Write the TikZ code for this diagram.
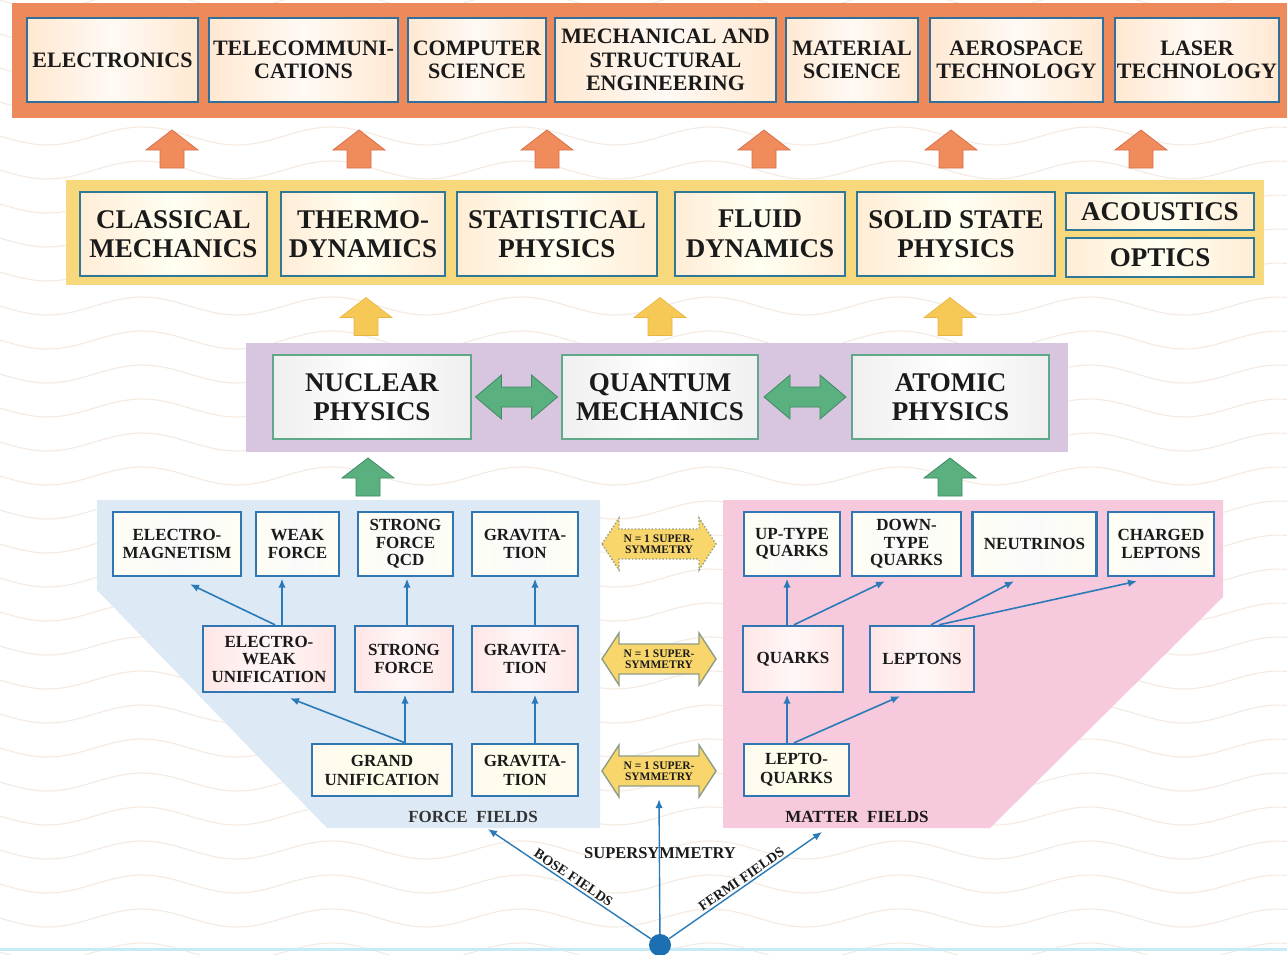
\documentclass[tikz,border=0pt]{standalone}
\usepackage{fontspec}
\setmainfont{Liberation Serif}
\usetikzlibrary{calc,arrows.meta}
\definecolor{orangebar}{HTML}{EC8A5C}
\definecolor{orangearrow}{HTML}{F08B5B}
\definecolor{orangeedge}{HTML}{D8704A}
\definecolor{yellowbar}{HTML}{F8D87C}
\definecolor{yellowarrow}{HTML}{F6C957}
\definecolor{yellowedge}{HTML}{E8B444}
\definecolor{purplebar}{HTML}{D8C5DF}
\definecolor{greenarrow}{HTML}{5BB07F}
\definecolor{greenedge}{HTML}{3D8A63}
\definecolor{blueregion}{HTML}{DDEAF6}
\definecolor{pinkregion}{HTML}{F7C9DD}
\definecolor{topedge}{HTML}{2F6F9C}
\definecolor{yedge}{HTML}{2F7896}
\definecolor{pedge}{HTML}{5FA88A}
\definecolor{sedge}{HTML}{2F76B2}
\definecolor{conncol}{HTML}{2A7AB8}
\definecolor{susyfill}{HTML}{F8D66B}
\definecolor{susyedge}{HTML}{8E9C86}
\definecolor{wavecol}{HTML}{F5EAE2}
\definecolor{bottomline}{HTML}{C7EBF6}
\definecolor{dotcol}{HTML}{1C6FB0}
\definecolor{txt}{HTML}{1A1A1A}
\begin{document}
\begin{tikzpicture}[x=1pt,y=-1pt,
  every node/.style={align=center, inner sep=1pt, text=txt},
  topbox/.style={draw=topedge, line width=2.6pt, minimum height=84pt,
    left color=orange!18!white, right color=orange!18!white, middle color=orange!4!white,
    font=\bfseries\fontsize{22}{23.5}\selectfont},
  ybox/.style={draw=yedge, line width=2.6pt, minimum height=84pt,
    left color=yellow!10!orange!16!white, right color=yellow!10!orange!16!white, middle color=yellow!5!white,
    font=\bfseries\fontsize{27}{29.5}\selectfont},
  pbox/.style={draw=pedge, line width=2.2pt, minimum width=197pt, minimum height=84pt,
    left color=blue!4!gray!12!white, right color=blue!4!gray!12!white, middle color=white,
    font=\bfseries\fontsize{27}{29.5}\selectfont},
  sbox/.style={draw=sedge, line width=2.4pt, font=\bfseries\fontsize{17}{17.5}\selectfont},
  greyfill/.style={left color=black!10!yellow!4!white, right color=black!10!yellow!4!white, middle color=black!2!white},
  pinkfill/.style={left color=red!10!white, right color=red!10!white, middle color=red!3!white},
  creamfill/.style={left color=yellow!22!orange!6!white, right color=yellow!22!orange!6!white, middle color=yellow!8!white},
  conn/.style={draw=conncol, line width=1.6pt, -{Latex[length=9pt,width=7.5pt]}},
  wave/.style={draw=wavecol, line width=1.1pt},
  susytext/.style={minimum width=114pt, minimum height=52pt, font=\bfseries\fontsize{11.5}{11}\selectfont},
  uparr/.pic={\path[pic actions] (-12,19) -- (-12,1) -- (-26,1) -- (0,-19) -- (26,1) -- (12,1) -- (12,19) -- cycle;},
  dblarr/.pic={\path[pic actions] (-41,0) -- (-15,-22) -- (-15,-10) -- (15,-10) -- (15,-22) -- (41,0) -- (15,22) -- (15,10) -- (-15,10) -- (-15,22) -- cycle;},
  susyarr/.pic={\path[pic actions] (-57,0) -- (-40,-26) -- (-40,-15) -- (40,-15) -- (40,-26) -- (57,0) -- (40,26) -- (40,15) -- (-40,15) -- (-40,26) -- cycle;}
]
\useasboundingbox (0,0) rectangle (1287,955);
\fill[white] (0,0) rectangle (1287,955);
% background waves
\foreach \k in {-2,...,29}
  \draw[wave] plot[domain=0:1287, samples=110, smooth] (\x,{\k*34+9*sin(1.9*\x)});

% ---------- top (orange) level ----------
\fill[orangebar] (12,3) rectangle (1295,118);
\node[topbox, minimum width=171pt] (elec) at (112.5,60) {ELECTRONICS};
\node[topbox, minimum width=189pt] (tele) at (303.5,60) {TELECOMMUNI-\\CATIONS};
\node[topbox, minimum width=138pt] (comp) at (477,60) {COMPUTER\\SCIENCE};
\node[topbox, minimum width=221pt] (mech) at (665.5,60) {MECHANICAL AND\\STRUCTURAL\\ENGINEERING};
\node[topbox, minimum width=132pt] (matl) at (852,60) {MATERIAL\\SCIENCE};
\node[topbox, minimum width=173pt] (aero) at (1016.5,60) {AEROSPACE\\TECHNOLOGY};
\node[topbox, minimum width=164pt] (lasr) at (1197,60) {LASER\\TECHNOLOGY};
\foreach \xx in {172,359,547,764,951,1141}
  \pic[fill=orangearrow, draw=orangeedge, line width=0.8pt] at (\xx,149) {uparr};

% ---------- yellow level ----------
\fill[yellowbar] (66,180) rectangle (1264,285);
\node[ybox, minimum width=187pt] (clas) at (173.5,234) {CLASSICAL\\MECHANICS};
\node[ybox, minimum width=164pt] (ther) at (363,234) {THERMO-\\DYNAMICS};
\node[ybox, minimum width=200pt] (stat) at (557,234) {STATISTICAL\\PHYSICS};
\node[ybox, minimum width=170pt] (flui) at (760,234) {FLUID\\DYNAMICS};
\node[ybox, minimum width=198pt] (soli) at (956,234) {SOLID STATE\\PHYSICS};
\node[ybox, minimum width=188pt, minimum height=37pt] (acou) at (1160,211.5) {ACOUSTICS};
\node[ybox, minimum width=188pt, minimum height=39pt] (opti) at (1160,257.5) {OPTICS};
\foreach \xx in {366,660,950}
  \pic[fill=yellowarrow, draw=yellowedge, line width=0.6pt] at (\xx,316.5) {uparr};

% ---------- purple level ----------
\fill[purplebar] (246,343) rectangle (1068,452);
\node[pbox, minimum width=198pt] (nucl) at (372,397) {NUCLEAR\\PHYSICS};
\node[pbox, minimum width=196pt] (quan) at (660,397) {QUANTUM\\MECHANICS};
\node[pbox] (atom) at (950.5,397) {ATOMIC\\PHYSICS};
\pic[fill=greenarrow, draw=greenedge, line width=0.8pt] at ($(nucl.east)!.5!(quan.west)$) {dblarr};
\pic[fill=greenarrow, draw=greenedge, line width=0.8pt] at ($(quan.east)!.5!(atom.west)$) {dblarr};
\foreach \xx in {368,950}
  \pic[fill=greenarrow, draw=greenedge, line width=0.8pt] at (\xx,477) {uparr};

% ---------- regions ----------
\fill[blueregion] (97,500) -- (600,500) -- (600,828) -- (327,828) -- (97,590) -- cycle;
\fill[pinkregion] (723,500) -- (1223,500) -- (1223,597) -- (990,828) -- (723,828) -- cycle;

% force fields
\node[sbox, greyfill, minimum width=128pt, minimum height=64pt] (em) at (177,544) {ELECTRO-\\MAGNETISM};
\node[sbox, greyfill, minimum width=83pt, minimum height=64pt] (weak) at (297.5,544) {WEAK\\FORCE};
\node[sbox, greyfill, minimum width=95pt, minimum height=64pt] (qcd) at (405.5,544) {STRONG\\FORCE\\QCD};
\node[sbox, greyfill, minimum width=106pt, minimum height=64pt] (gr1) at (525,544) {GRAVITA-\\TION};
\node[sbox, pinkfill, minimum width=132pt, minimum height=66pt] (ew) at (269,659) {ELECTRO-\\WEAK\\UNIFICATION};
\node[sbox, pinkfill, minimum width=98pt, minimum height=66pt] (sf) at (404,659) {STRONG\\FORCE};
\node[sbox, pinkfill, minimum width=106pt, minimum height=66pt] (gr2) at (525,659) {GRAVITA-\\TION};
\node[sbox, creamfill, minimum width=140pt, minimum height=52pt, font=\bfseries\fontsize{17}{19}\selectfont] (gu) at (382,770) {GRAND\\UNIFICATION};
\node[sbox, creamfill, minimum width=106pt, minimum height=52pt, font=\bfseries\fontsize{17}{19}\selectfont] (gr3) at (525,770) {GRAVITA-\\TION};
\node[font=\bfseries\fontsize{17}{17}\selectfont, text=black!80] (ff) at (473,817) {FORCE\ \ FIELDS};

% matter fields
\node[sbox, greyfill, minimum width=96pt, minimum height=64pt] (up) at (792,544) {UP-TYPE\\QUARKS};
\node[sbox, greyfill, minimum width=109pt, minimum height=64pt] (down) at (906.5,544) {DOWN-\\TYPE\\QUARKS};
\node[sbox, greyfill, minimum width=124pt, minimum height=64pt] (neut) at (1034.5,544) {NEUTRINOS};
\node[sbox, greyfill, minimum width=106pt, minimum height=64pt] (chl) at (1161,544) {CHARGED\\LEPTONS};
\node[sbox, pinkfill, minimum width=100pt, minimum height=66pt] (qu) at (793,659) {QUARKS};
\node[sbox, pinkfill, minimum width=104pt, minimum height=66pt] (lep) at (922,659) {LEPTONS};
\node[sbox, creamfill, minimum width=105pt, minimum height=52pt, font=\bfseries\fontsize{17}{19}\selectfont] (lq) at (796.5,770) {LEPTO-\\QUARKS};
\node[font=\bfseries\fontsize{17}{17}\selectfont] (mf) at (857,817) {MATTER\ \ FIELDS};

% supersymmetry double arrows
\pic[fill=susyfill, draw=susyedge, line width=1.4pt, dotted] at (659,544) {susyarr};
\pic[fill=susyfill, draw=susyedge, line width=1.4pt] at (659,659) {susyarr};
\pic[fill=susyfill, draw=susyedge, line width=1.4pt] at (659,771) {susyarr};
\node[susytext] (s1) at (659,544) {N = 1 SUPER-\\SYMMETRY};
\node[susytext] (s2) at (659,659) {N = 1 SUPER-\\SYMMETRY};
\node[susytext] (s3) at (659,771) {N = 1 SUPER-\\SYMMETRY};

% connectors (force)
\draw[conn] ($(ew.north)+(6,0)$) -- ($(em.south)+(13,7)$);
\coordinate (a1) at ($(ew.north)+(13,0)$);
\draw[conn, shorten >=1.5pt] (a1) -- (a1 |- weak.south);
\coordinate (a2) at ($(sf.north)+(3,0)$);
\draw[conn, shorten >=1.5pt] (a2) -- (a2 |- qcd.south);
\coordinate (a3) at ($(gr2.north)+(10,0)$);
\draw[conn, shorten >=1.5pt] (a3) -- (a3 |- gr1.south);
\coordinate (a4) at ($(gu.north)+(23,0)$);
\draw[conn, shorten >=1.5pt] (a4) -- (a4 |- sf.south);
\draw[conn] (a4) -- ($(ew.south)+(21,5)$);
\coordinate (a5) at ($(gr3.north)+(10,0)$);
\draw[conn, shorten >=1.5pt] (a5) -- (a5 |- gr2.south);
% connectors (matter)
\coordinate (b1) at ($(qu.north)+(-6,0)$);
\draw[conn, shorten >=1.5pt] (b1) -- (b1 |- up.south);
\draw[conn] ($(qu.north)+(1,0)$) -- ($(down.south)+(-21.5,4)$);
\draw[conn] ($(lep.north)+(9,0)$) -- ($(neut.south)+(-20.5,4)$);
\draw[conn] ($(lep.north)+(17,0)$) -- ($(chl.south)+(-24,4)$);
\coordinate (b2) at ($(lq.north)+(-9.5,0)$);
\draw[conn, shorten >=1.5pt] (b2) -- (b2 |- qu.south);
\draw[conn] ($(lq.north)+(-2.5,0)$) -- ($(lep.south)+(-22,3)$);

% ---------- bottom ----------
\draw[bottomline, line width=3pt] (0,949) -- (1287,949);
\node[font=\bfseries\fontsize{16.5}{17}\selectfont] (susy) at (660,853) {SUPERSYMMETRY};
\node[circle, fill=dotcol, minimum size=22pt, inner sep=0pt] (src) at (660,945) {};
\coordinate (bend) at (488,829);
\coordinate (fend) at (822,832);
\draw[conn, line width=1.4pt] (src) -- node[sloped, above, pos=.5, inner sep=2pt, font=\bfseries\fontsize{14}{14}\selectfont] (bose) {BOSE FIELDS} (bend);
\draw[conn, line width=1.4pt] (src) -- node[sloped, above, pos=.5, inner sep=2pt, font=\bfseries\fontsize{14}{14}\selectfont] (fermi) {FERMI FIELDS} (fend);
\draw[conn, line width=1.4pt, shorten >=2pt] (src) -- (s3.south);
\end{tikzpicture}
\end{document}
